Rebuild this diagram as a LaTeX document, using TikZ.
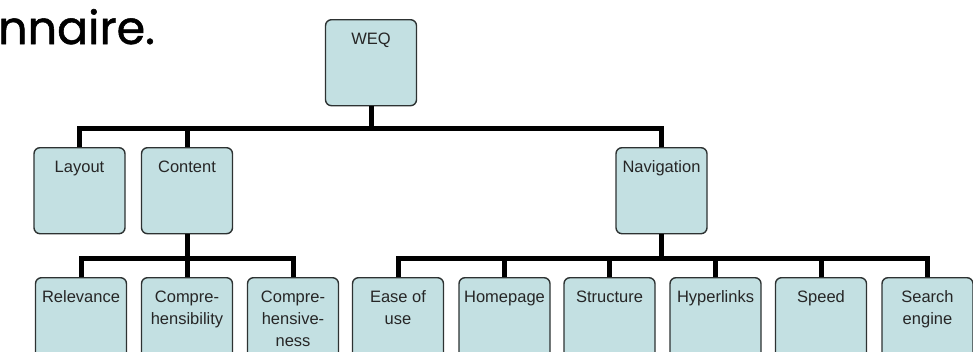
\documentclass[tikz,border=0pt]{standalone}
\usepackage{fontspec}
\setmainfont{Liberation Sans}
\newfontfamily\headfont[FakeBold=1.2]{Poppins}
\usepackage{xcolor}
\usepackage{tikz}
\usetikzlibrary{positioning}
\definecolor{boxfill}{RGB}{195,224,226}
\definecolor{boxline}{RGB}{45,50,50}
\newcommand{\stacked}[1]{\begin{tabular}[t]{@{}c@{}}#1\end{tabular}}

\begin{document}
\begin{tikzpicture}[
    x=1pt, y=-1pt,
    box/.style={draw=boxline, fill=boxfill, line width=1.4pt, rounded corners=6pt,
        anchor=north, minimum width=91pt, inner xsep=2pt, inner ysep=4pt,
        text height=21pt, text depth=57pt, font=\fontsize{16.5}{22}\selectfont, text=black!85},
    link/.style={line width=5pt, draw=black}
]
\useasboundingbox (0,0) rectangle (973,351);
\clip (0,0) rectangle (973,351);

\node[font=\headfont\fontsize{46}{46}\selectfont, anchor=base west, inner sep=0pt] (title) at (-2,44) {nnaire.};

\node[box] (weq) at (371,19) {WEQ};
\node[box] (layout) at (79.5,147) {Layout};
\node[box] (content) at (187,147) {Content};
\node[box] (nav) at (661.5,147) {Navigation};

\node[box] (relev) at (81,277) {Relevance};
\node[box] (compsib) at (187,277) {\stacked{Compre-\\hensibility}};
\node[box] (compsive) at (293,277) {\stacked{Compre-\\hensive-\\ness}};
\node[box] (ease) at (398,277) {\stacked{Ease of\\use}};
\node[box] (home) at (504.5,277) {Homepage};
\node[box] (struct) at (609.5,277) {Structure};
\node[box] (hyper) at (715.5,277) {Hyperlinks};
\node[box] (speed) at (821,277) {Speed};
\node[box] (search) at (927.5,277) {\stacked{Search\\engine}};

\coordinate (top bar) at (371,128);
\draw[link] (weq.south) -- (top bar);
\draw[link] (layout.north) |- (top bar) -| (nav.north);
\draw[link] (content.north) -- (content.north |- top bar);

\coordinate (content bar) at (187,258);
\draw[link] (content.south) -- (content bar);
\draw[link] (relev.north) |- (content bar) -| (compsive.north);
\draw[link] (compsib.north) -- (content bar);

\coordinate (nav bar) at (661.5,258);
\draw[link] (nav.south) -- (nav bar);
\draw[link] (ease.north) |- (nav bar) -| (search.north);
\foreach \n in {home,struct,hyper,speed}
    \draw[link] (\n.north) -- (\n.north |- nav bar);
\end{tikzpicture}
\end{document}
